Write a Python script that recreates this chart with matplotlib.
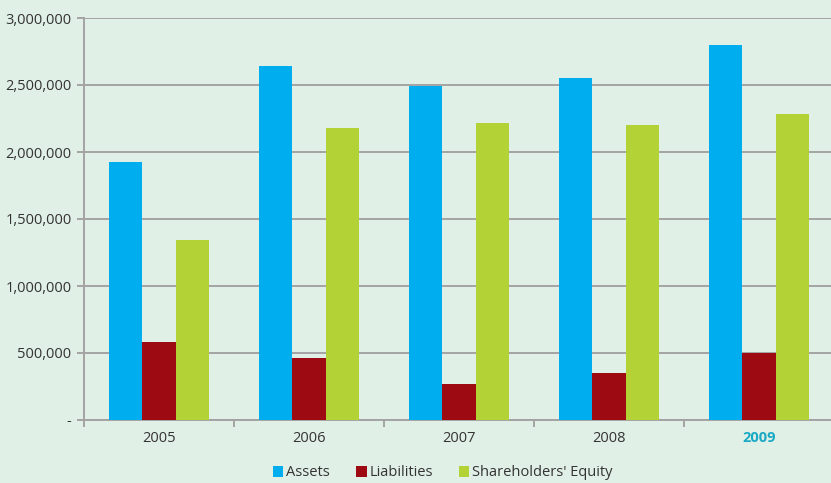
import matplotlib.pyplot as plt
import numpy as np
from matplotlib.ticker import FuncFormatter

# Balance sheet summary, in thousands
years = ['2005', '2006', '2007', '2008', '2009']
assets = [1925000, 2642000, 2493000, 2552000, 2799000]
liabilities = [584000, 463000, 269000, 351000, 498000]
equity = [1343000, 2179000, 2216000, 2201000, 2284000]

BG = '#E1F0E6'
GRID = '#A3A3A3'
series = [
    ('Assets', assets, '#00AEEF'),
    ('Liabilities', liabilities, '#9E0A12'),
    ("Shareholders' Equity", equity, '#B2D235'),
]

plt.rcParams['font.family'] = ['Open Sans', 'DejaVu Sans']

fig = plt.figure(figsize=(8.31, 4.83), dpi=100, facecolor=BG)
ax = fig.add_axes([84 / 831, 1 - 420 / 483, 750 / 831, 402 / 483])
ax.set_facecolor(BG)

x = np.arange(len(years))
w = 0.222
for i, (name, vals, color) in enumerate(series):
    ax.bar(x + (i - 1) * w, vals, width=w, color=color, label=name, zorder=3)

ax.set_xlim(-0.5, len(years) - 0.5)
ax.set_ylim(0, 3000000)
ax.set_yticks(np.arange(0, 3000001, 500000))
ax.yaxis.set_major_formatter(FuncFormatter(lambda v, p: '-' if v == 0 else f'{int(v):,}'))
ax.grid(axis='y', color=GRID, linewidth=1.4, zorder=0)

# category separators as ticks, labels centred in each slot
ax.set_xticks(np.arange(-0.5, len(years), 1.0))
ax.set_xticklabels([])
ax.set_xticks(x, minor=True)
ax.set_xticklabels(years, minor=True)
ax.tick_params(axis='x', which='minor', length=0, pad=8, labelsize=10.5, labelcolor='#333333')
ax.tick_params(axis='x', which='major', length=5, width=1.4, color=GRID)
ax.tick_params(axis='y', length=5, width=1.4, color=GRID, labelsize=10.5, labelcolor='#333333', pad=4)

lbl = ax.get_xticklabels(minor=True)[-1]
lbl.set_color('#1AA9C4')
lbl.set_fontweight('bold')

for side in ['top', 'right']:
    ax.spines[side].set_visible(False)
for side in ['left', 'bottom']:
    ax.spines[side].set_color(GRID)
    ax.spines[side].set_linewidth(1.4)

handles, labels = ax.get_legend_handles_labels()
fig.legend(handles, labels, loc='center', bbox_to_anchor=(443 / 831, 1 - 473 / 483), ncol=3,
           frameon=False, fontsize=10.5, handlelength=0.7, handleheight=0.7,
           handletextpad=0.2, columnspacing=1.8, labelcolor='#333333')

fig.savefig('out.png', dpi=100, facecolor=BG)
